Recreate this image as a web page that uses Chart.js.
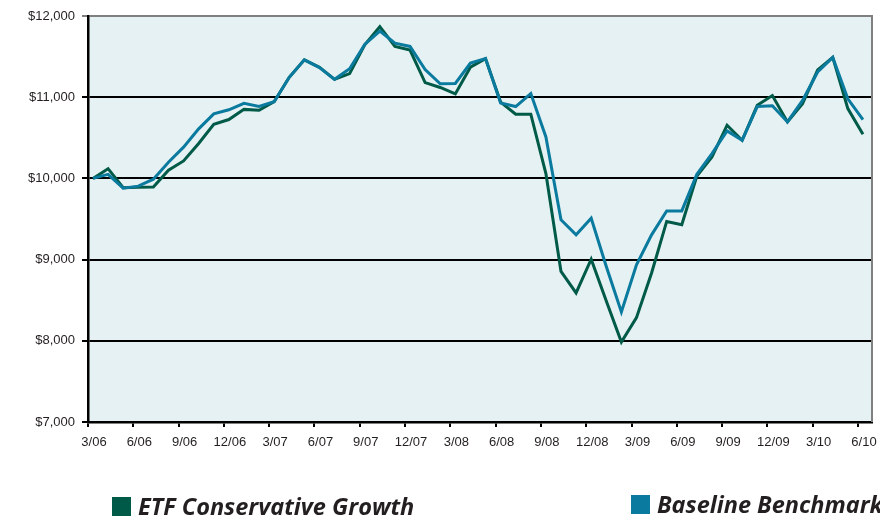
<!DOCTYPE html>
<html lang="en">
<head>
<meta charset="utf-8">
<title>ETF Conservative Growth vs Baseline Benchmark</title>
<script src="https://cdn.jsdelivr.net/npm/chart.js@4.4.0/dist/chart.umd.min.js"></script>
<style>
  html, body { margin: 0; padding: 0; background: #fff; }
</style>
</head>
<body>
<canvas id="chart" width="880" height="517"></canvas>
<script>
// quarter labels on the x axis, one every 3 months (3/06 .. 6/10)
const quarterLabels = ['3/06', '6/06', '9/06', '12/06', '3/07', '6/07', '9/07', '12/07', '3/08',
                       '6/08', '9/08', '12/08', '3/09', '6/09', '9/09', '12/09', '3/10', '6/10'];

// month-end values of a $10,000 investment, 3/06 .. 6/10
const etfValues = [10000, 10120, 9885, 9890, 9895, 10100, 10215, 10430, 10665, 10725, 10850, 10840,
                   10945, 11245, 11460, 11370, 11220, 11290, 11645, 11870, 11625, 11580, 11180, 11120,
                   11040, 11370, 11475, 10940, 10790, 10790, 10060, 8855, 8590, 9005, 8490, 7985,
                   8285, 8835, 9470, 9430, 10030, 10265, 10655, 10470, 10900, 11020, 10695, 10920,
                   11335, 11490, 10860, 10545];
const benchmarkValues = [10000, 10050, 9880, 9905, 9990, 10200, 10385, 10610, 10795, 10845, 10925, 10885,
                         10945, 11245, 11460, 11365, 11220, 11350, 11650, 11815, 11665, 11625, 11340, 11165,
                         11170, 11420, 11475, 10930, 10885, 11045, 10510, 9490, 9305, 9510, 8915, 8355,
                         8935, 9305, 9600, 9600, 10050, 10305, 10585, 10470, 10885, 10895, 10695, 10960,
                         11310, 11490, 10980, 10725];

const seriesNames = ['ETF Conservative Growth', 'Baseline Benchmark'];
const seriesColors = ['#005a48', '#0a7a9e'];
const yMin = 7000, yMax = 12000, yStep = 1000;

// tick marks sit a little left of each quarter's data point
const tickShift = 0.33;

function toPoints(values) {
  return values.map((v, i) => ({ x: i, y: v }));
}

const plotBackground = {
  id: 'plotBackground',
  beforeDraw(chart) {
    const { ctx, chartArea: a } = chart;
    ctx.save();
    ctx.fillStyle = '#fff';
    ctx.fillRect(0, 0, chart.width, chart.height);
    ctx.fillStyle = '#e6f1f3';
    ctx.fillRect(a.left, a.top, a.right - a.left, a.bottom - a.top);
    ctx.restore();
  },
  afterDatasetsDraw(chart) {
    // grey frame on the right side
    const { ctx, chartArea: a } = chart;
    ctx.save();
    ctx.strokeStyle = '#808080';
    ctx.lineWidth = 2;
    ctx.beginPath();
    ctx.moveTo(a.right, a.top - 1);
    ctx.lineTo(a.right, a.bottom);
    ctx.stroke();
    ctx.restore();
  }
};

// legend drawn by hand so the second entry can run off the edge like the original
const bottomLegend = {
  id: 'bottomLegend',
  afterDraw(chart) {
    const ctx = chart.ctx;
    const spots = [{ x: 112, y: 497 }, { x: 631, y: 495 }];
    ctx.save();
    ctx.font = 'italic bold 23.5px "Open Sans", "DejaVu Sans", sans-serif';
    ctx.textBaseline = 'alphabetic';
    seriesNames.forEach((name, i) => {
      const s = spots[i];
      ctx.fillStyle = seriesColors[i];
      ctx.fillRect(s.x, s.y, 19, 19);
      ctx.fillStyle = '#231f20';
      ctx.fillText(name, s.x + 26, s.y + 18);
    });
    ctx.restore();
  }
};

new Chart(document.getElementById('chart'), {
  type: 'line',
  data: {
    datasets: [
      {
        label: seriesNames[0],
        data: toPoints(etfValues),
        borderColor: seriesColors[0],
        borderWidth: 3,
        pointRadius: 0,
        tension: 0,
        order: 2
      },
      {
        label: seriesNames[1],
        data: toPoints(benchmarkValues),
        borderColor: seriesColors[1],
        borderWidth: 3,
        pointRadius: 0,
        tension: 0,
        order: 1
      }
    ]
  },
  options: {
    responsive: false,
    animation: false,
    devicePixelRatio: 1,
    layout: { padding: { top: 16, right: 8, left: 0, bottom: 0 } },
    plugins: {
      legend: { display: false },
      tooltip: { enabled: false }
    },
    scales: {
      x: {
        type: 'linear',
        min: -tickShift,
        max: 51.6,
        afterBuildTicks(scale) {
          scale.ticks = quarterLabels.map((l, k) => ({ value: 3 * k - tickShift }));
        },
        afterFit(scale) { scale.height = 95; },
        border: { color: '#000', width: 2.5 },
        grid: { drawOnChartArea: false, color: '#000', lineWidth: 2, tickLength: 5 },
        ticks: {
          autoSkip: false,
          maxRotation: 0,
          labelOffset: 6,
          padding: 8,
          color: '#231f20',
          font: { family: '"Liberation Sans", Arial, sans-serif', size: 13 },
          callback: (v, i) => quarterLabels[i]
        }
      },
      y: {
        min: yMin,
        max: yMax,
        afterFit(scale) { scale.width = 88; },
        border: { color: '#000', width: 2.5 },
        grid: {
          color: ctx => (ctx.tick && ctx.tick.value === yMax ? '#808080' : '#000'),
          lineWidth: 2,
          tickLength: 6
        },
        ticks: {
          stepSize: yStep,
          padding: 7,
          color: '#231f20',
          font: { family: '"Liberation Sans", Arial, sans-serif', size: 13 },
          callback: v => '$' + v.toLocaleString('en-US')
        }
      }
    }
  },
  plugins: [plotBackground, bottomLegend]
});
</script>
</body>
</html>
